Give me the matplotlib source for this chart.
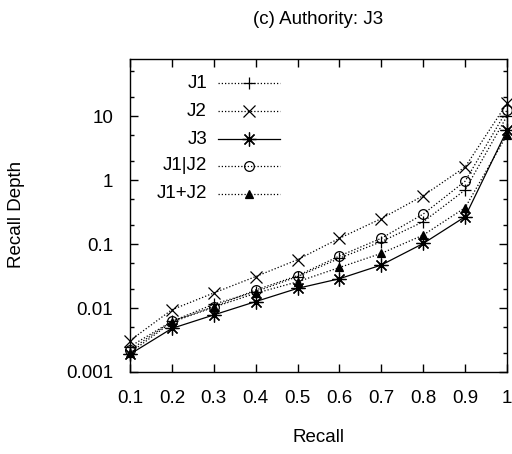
import matplotlib
matplotlib.use("Agg")
import matplotlib.pyplot as plt
from matplotlib import font_manager
from matplotlib.ticker import LogLocator, FixedLocator, FixedFormatter, NullFormatter
from matplotlib.lines import Line2D

names = sorted({f.name for f in font_manager.fontManager.ttflist})
fam = 'Liberation Sans Narrow' if 'Liberation Sans Narrow' in names else 'Liberation Sans'
plt.rcParams['font.family'] = [fam, 'DejaVu Sans']
FS = 14.5 if fam == 'Liberation Sans Narrow' else 13.5

recall = [0.1, 0.2, 0.3, 0.4, 0.5, 0.6, 0.7, 0.8, 0.9, 1.0]
j1 = [0.0025, 0.0062, 0.0115, 0.018, 0.031, 0.060, 0.109, 0.223, 0.70, 10.0]
j2 = [0.0031, 0.0094, 0.0172, 0.031, 0.057, 0.123, 0.25, 0.57, 1.6, 15.8]
j3 = [0.0019, 0.0048, 0.0078, 0.0126, 0.0203, 0.0287, 0.047, 0.102, 0.267, 6.0]
j1_or_j2 = [0.0022, 0.0062, 0.0105, 0.0191, 0.032, 0.065, 0.123, 0.294, 0.96, 12.4]
j1_plus_j2 = [0.0020, 0.0060, 0.0103, 0.017, 0.0257, 0.043, 0.0715, 0.138, 0.37, 5.1]

labels = ["J1", "J2", "J3", "J1|J2", "J1+J2"]
series = [j1, j2, j3, j1_or_j2, j1_plus_j2]
xticks = [0.1, 0.2, 0.3, 0.4, 0.5, 0.6, 0.7, 0.8, 0.9, 1.0]
xticklabels = ["0.1", "0.2", "0.3", "0.4", "0.5", "0.6", "0.7", "0.8", "0.9", "1"]
yticks = [0.001, 0.01, 0.1, 1, 10]
yticklabels = ["0.001", "0.01", "0.1", "1", "10"]

dotted = (0, (1, 1.6))
styles = [
    dict(ls=dotted, marker='+', ms=9, mew=0.9, mfc='none'),
    dict(ls=dotted, marker='x', ms=8, mew=0.9, mfc='none'),
    dict(ls='-', marker=(8, 2, 0), ms=10, mew=0.9, mfc='none'),
    dict(ls=dotted, marker='o', ms=7, mew=0.9, mfc='none'),
    dict(ls=dotted, marker='^', ms=6, mew=0.9, mfc='black'),
]

fig = plt.figure(figsize=(5.12, 4.54), dpi=100)
ax = fig.add_axes([130/512, 1-372/454, 377/512, 313/454])

for ys, st in zip(series, styles):
    ax.plot(recall, ys, color='black', lw=0.9, mec='black', clip_on=False, **st)

ax.set_yscale('log')
ax.set_xlim(0.1, 1.0)
ax.set_ylim(0.001, 78)
ax.xaxis.set_major_locator(FixedLocator(xticks))
ax.xaxis.set_major_formatter(FixedFormatter(xticklabels))
ax.yaxis.set_major_locator(FixedLocator(yticks))
ax.yaxis.set_major_formatter(FixedFormatter(yticklabels))
ax.yaxis.set_minor_locator(LogLocator(base=10, subs=(2, 5)))
ax.yaxis.set_minor_formatter(NullFormatter())

ax.tick_params(which='both', direction='in', top=True, right=True, width=1.0, labelsize=FS)
ax.tick_params(which='major', length=6)
ax.tick_params(which='minor', length=3)
ax.tick_params(axis='x', which='major', pad=13)
ax.tick_params(axis='y', which='major', pad=12)
for sp in ax.spines.values():
    sp.set_linewidth(1.0)

# legend (gnuplot style: right-aligned labels, sample on right)
row_y = [83, 111, 139, 166, 194]
for lab, st, yp in zip(labels, styles, row_y):
    yf = 1 - yp/454
    fig.text(207/512, yf, lab, ha='right', va='center', fontsize=FS)
    fig.add_artist(Line2D([218/512, 280/512], [yf, yf], color='black', lw=0.9,
                          ls=st['ls'], transform=fig.transFigure))
    fig.add_artist(Line2D([249/512], [yf], color='black', marker=st['marker'],
                          ms=st['ms'], mew=st['mew'], mfc=st['mfc'], mec='black',
                          ls='none', transform=fig.transFigure))

fig.text(318/512, 1-19/454, "(c) Authority: J3", ha='center', va='center', fontsize=FS)
fig.text(318/512, 1-437/454, "Recall", ha='center', va='center', fontsize=FS)
fig.text(17/512, 1-214/454, "Recall Depth", ha='center', va='center', rotation=90, fontsize=FS)

fig.savefig("out.png", dpi=100)
